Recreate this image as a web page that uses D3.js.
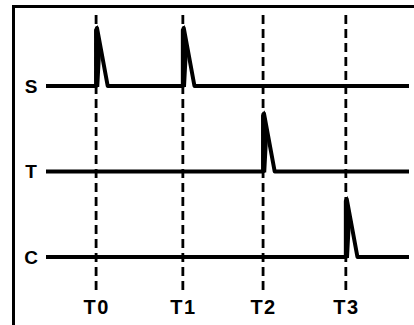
<!DOCTYPE html>
<html><head><meta charset="utf-8">
<script src="https://cdn.jsdelivr.net/npm/d3@7/dist/d3.min.js"></script>
<style>html,body{margin:0;padding:0;background:#fff;}svg{display:block;}</style>
</head><body>
<script>
// Data
const channels = ["S", "T", "C"];
const tickLabels = ["T0", "T1", "T2", "T3"];
const tickTimes = [13.8, 37.7, 59.8, 82.6];
const pulseTimesS = [13.8, 37.7];
const pulseTimesT = [59.8];
const pulseTimesC = [82.6];
const pulseDecay = 3.2;
const pulseHeight = 1;

const W = 414, H = 325;
const svg = d3.select("body").append("svg").attr("width", W).attr("height", H);

// frame (open to the right and bottom)
svg.append("rect").attr("x", 13.5).attr("y", 6.5).attr("width", 420).attr("height", 340)
  .attr("fill", "none").attr("stroke", "#000").attr("stroke-width", 3);

const x = d3.scaleLinear().domain([0, 100]).range([46, 409]);
const y = d3.scalePoint().domain(channels).range([86, 257]);
const amp = d3.scaleLinear().domain([0, pulseHeight]).range([0, 58]);

// dashed time markers
svg.append("g").selectAll("line").data(tickTimes).join("line")
  .attr("x1", d => x(d)).attr("x2", d => x(d))
  .attr("y1", 15).attr("y2", 294)
  .attr("stroke", "#000").attr("stroke-width", 2.8)
  .attr("stroke-dasharray", "9,5");

// tick labels via axis
const axis = d3.axisBottom(x).tickValues(tickTimes).tickFormat((d, i) => tickLabels[i]).tickSize(0).tickPadding(0);
const ax = svg.append("g").attr("transform", "translate(0,300)").call(axis);
ax.select(".domain").remove();
ax.selectAll("text").attr("font-family", "Liberation Sans, Arial, sans-serif")
  .attr("font-weight", "bold").attr("font-size", 20).attr("fill", "#000")
  .attr("letter-spacing", 1.5).attr("dy", "0.71em");

// channel labels
svg.append("g").selectAll("text").data(channels).join("text")
  .attr("x", 31).attr("y", d => y(d)).attr("dy", "0.36em")
  .attr("text-anchor", "middle")
  .attr("font-family", "Liberation Sans, Arial, sans-serif")
  .attr("font-weight", "bold").attr("font-size", 19).text(d => d);

const pulses = { S: pulseTimesS, T: pulseTimesT, C: pulseTimesC };
const line = d3.line().x(d => x(d[0])).y(d => d[1]);
const closed = d3.line().x(d => x(d[0])).y(d => d[1]).curve(d3.curveLinearClosed);

channels.forEach(ch => {
  const base = y(ch);
  const pts = [[0, base]];
  pulses[ch].forEach(t => {
    pts.push([t, base]);
    pts.push([t, base - amp(pulseHeight) * 0.96]);
    pts.push([t + 0.25, base - amp(pulseHeight)]);
    pts.push([t + pulseDecay, base]);
  });
  pts.push([100, base]);
  svg.append("path").datum(pts).attr("d", line)
    .attr("fill", "none").attr("stroke", "#000").attr("stroke-width", 4)
    .attr("stroke-linejoin", "round");
  // thickened pulse body
  pulses[ch].forEach(t => {
    const body = [[t - 0.15, base], [t - 0.15, base - amp(pulseHeight) * 0.95], [t + 0.3, base - amp(pulseHeight)], [t + 1.1, base - amp(pulseHeight) * 0.6], [t + 0.6, base]];
    svg.append("path").attr("d", closed(body))
      .attr("fill", "#000").attr("stroke", "#000").attr("stroke-width", 2);
  });
});
</script>
</body></html>
